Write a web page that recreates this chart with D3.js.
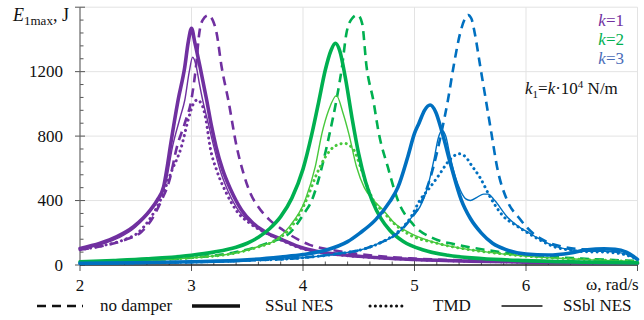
<!DOCTYPE html>
<html><head><meta charset="utf-8">
<script src="https://cdn.jsdelivr.net/npm/d3@7"></script>
<style>
body{margin:0;background:#fff}
svg{display:block}
</style>
</head><body>
<svg id="c" width="644" height="320" font-family="'Liberation Serif', 'DejaVu Serif', serif"></svg>
<script>
// ---------- data (ω [rad/s], E1max [J]) ----------
const xTicks = [2, 3, 4, 5, 6];
const yTicks = [0, 400, 800, 1200];
const kLabels = ["1", "2", "3"];
const legendLabels = ["no damper", "SSul NES", "TMD", "SSbl NES"];

// k = 1
const noDamperK1 = [[2.0,95],[2.2,118],[2.4,155],[2.55,205],[2.65,290],[2.73,400],[2.8,520],[2.87,735],[2.94,880],[3.0,1030],[3.04,1230],[3.07,1440],[3.1,1520],[3.15,1550],[3.19,1520],[3.225,1440],[3.27,1230],[3.33,1024],[3.405,735],[3.47,560],[3.525,450],[3.6,360],[3.7,280],[3.82,217],[3.95,160],[4.06,125],[4.3,88],[4.6,60],[5.0,40],[5.5,27],[6.0,20],[6.5,15],[7.0,11]];
const ssulK1 = [[2.0,103],[2.18,135],[2.33,176],[2.48,238],[2.63,341],[2.69,400],[2.75,486],[2.78,600],[2.81,735],[2.88,1024],[2.94,1231],[2.97,1380],[3.0,1469],[3.03,1380],[3.076,1231],[3.136,1024],[3.18,860],[3.22,735],[3.28,590],[3.35,470],[3.45,340],[3.55,260],[3.65,210],[3.82,155],[4.0,105],[4.12,85],[4.4,60],[4.72,43],[5.0,34],[5.5,24],[6.0,18],[6.5,14],[7.0,11]];
const tmdK1 = [[2.0,95],[2.2,120],[2.4,158],[2.52,200],[2.62,280],[2.72,400],[2.82,580],[2.91,735],[2.97,900],[3.01,990],[3.05,1024],[3.09,1000],[3.13,900],[3.166,735],[3.23,580],[3.31,450],[3.4,340],[3.53,255],[3.65,205],[3.82,150],[4.0,100],[4.12,82],[4.4,58],[4.72,42],[5.0,33],[5.5,23],[6.0,17],[6.5,13],[7.0,10]];
const ssblK1 = [[2.0,100],[2.2,130],[2.35,170],[2.48,225],[2.6,310],[2.7,400],[2.77,510],[2.83,735],[2.9,920],[2.94,1024],[2.98,1200],[3.01,1289],[3.04,1240],[3.07,1128],[3.1,1024],[3.15,880],[3.2,735],[3.26,580],[3.33,455],[3.43,330],[3.55,255],[3.65,205],[3.82,150],[4.0,102],[4.12,83],[4.4,59],[4.72,42],[5.0,33],[5.5,23],[6.0,17],[6.5,13],[7.0,10]];

// k = 2
const noDamperK2 = [[2.0,18],[2.5,28],[3.0,45],[3.4,80],[3.7,140],[3.88,198],[4.0,310],[4.08,403],[4.17,610],[4.24,820],[4.3,1024],[4.35,1231],[4.39,1440],[4.44,1530],[4.49,1552],[4.53,1500],[4.57,1231],[4.63,1024],[4.68,817],[4.76,610],[4.85,403],[4.99,250],[5.17,165],[5.35,130],[5.5,110],[5.75,82],[6.0,62],[6.5,40],[7.0,25]];
const ssulK2 = [[2.0,20],[2.3,28],[2.6,38],[3.0,60],[3.2,80],[3.4,110],[3.5,135],[3.6,172],[3.7,225],[3.8,300],[3.9,415],[4.0,595],[4.08,815],[4.14,1010],[4.2,1210],[4.25,1330],[4.29,1376],[4.33,1328],[4.38,1162],[4.44,911],[4.5,688],[4.56,519],[4.62,400],[4.7,288],[4.78,214],[4.9,146],[5.08,93],[5.3,60],[5.6,40],[6.0,27],[6.5,18],[7.0,13]];
const tmdK2 = [[2.0,16],[2.5,26],[3.0,45],[3.4,75],[3.6,112],[3.76,155],[3.9,240],[4.03,403],[4.12,560],[4.2,670],[4.28,735],[4.37,755],[4.45,720],[4.52,600],[4.58,480],[4.63,403],[4.72,330],[4.82,255],[4.93,198],[5.2,135],[5.45,100],[5.75,72],[6.0,55],[6.5,35],[7.0,22]];
const ssblK2 = [[2.0,16],[2.5,26],[3.0,45],[3.4,75],[3.6,115],[3.76,157],[3.88,240],[4.02,403],[4.11,610],[4.17,817],[4.23,960],[4.3,1051],[4.36,940],[4.41,817],[4.48,610],[4.55,480],[4.63,403],[4.72,340],[4.82,260],[4.96,198],[5.2,136],[5.45,100],[5.75,72],[6.0,55],[6.5,35],[7.0,22]];

// k = 3
const noDamperK3 = [[2.0,10],[2.5,13],[3.0,18],[3.5,28],[4.0,45],[4.3,70],[4.55,100],[4.7,140],[4.85,198],[4.97,290],[5.07,403],[5.17,610],[5.24,817],[5.3,1024],[5.35,1231],[5.41,1440],[5.45,1525],[5.48,1552],[5.51,1530],[5.54,1440],[5.59,1231],[5.64,1024],[5.69,817],[5.74,610],[5.83,403],[5.94,290],[6.06,198],[6.2,140],[6.33,114],[6.45,100],[6.6,95],[6.75,90],[6.9,70],[7.0,38]];
const ssulK3 = [[2.0,10],[2.5,14],[3.0,20],[3.5,32],[3.8,50],[4.0,65],[4.21,93],[4.4,145],[4.51,198],[4.65,280],[4.78,395],[4.85,480],[4.94,672],[5.0,817],[5.04,880],[5.09,960],[5.14,993],[5.19,950],[5.25,817],[5.33,610],[5.42,403],[5.5,290],[5.6,198],[5.7,135],[5.83,93],[6.0,68],[6.2,62],[6.4,75],[6.55,95],[6.7,100],[6.8,98],[6.9,80],[6.97,50],[7.0,35]];
const tmdK3 = [[2.0,10],[2.5,13],[3.0,18],[3.5,28],[4.0,45],[4.3,68],[4.55,100],[4.7,140],[4.85,205],[4.97,300],[5.05,404],[5.12,465],[5.18,520],[5.23,569],[5.3,640],[5.35,675],[5.4,690],[5.46,670],[5.51,620],[5.59,540],[5.68,420],[5.8,300],[5.9,250],[6.02,198],[6.14,150],[6.25,114],[6.4,92],[6.55,82],[6.7,80],[6.85,70],[6.95,50],[7.0,35]];
const ssblK3 = [[2.0,10],[2.5,13],[3.0,18],[3.5,28],[4.0,45],[4.3,68],[4.55,100],[4.7,140],[4.85,198],[4.98,300],[5.05,362],[5.11,465],[5.18,672],[5.21,780],[5.25,835],[5.28,800],[5.32,672],[5.37,540],[5.41,465],[5.46,410],[5.5,400],[5.56,420],[5.62,440],[5.66,440],[5.72,400],[5.83,300],[5.93,240],[6.03,198],[6.15,150],[6.27,114],[6.4,95],[6.55,85],[6.7,85],[6.85,75],[6.95,55],[7.0,35]];

// ---------- chart ----------
const FONT = "'Liberation Serif', 'DejaVu Serif', serif";
const svg = d3.select("#c");
const x = d3.scaleLinear().domain([2, 7]).range([80, 637.5]);
const y = d3.scaleLinear().domain([0, 1600]).range([265, 7.2]);

const purple = "#7030a0", green = "#00b050", lightGreen = "#48c83c", blue = "#0070c0";
const styles = {
  dashed: {w: 2.6, dash: "9,6", cap: "butt"},
  thick:  {w: 3.6, dash: null, cap: "round"},
  dotted: {w: 3.0, dash: "0.1,5.2", cap: "round"},
  thin:   {w: 1.4, dash: null, cap: "round"}
};

function txt(sel) { return sel.attr("font-family", FONT).style("font-family", FONT).attr("fill", "#111"); }

// grid
const g = svg.append("g");
g.selectAll("line.vg").data([3,4,5,6,7]).join("line")
  .attr("x1", d => x(d)).attr("x2", d => x(d)).attr("y1", y(1600)).attr("y2", y(0))
  .attr("stroke", "#e3e3e3").attr("stroke-width", 1);
g.selectAll("line.hg").data([400,800,1200,1600]).join("line")
  .attr("x1", x(2)).attr("x2", x(7)).attr("y1", d => y(d)).attr("y2", d => y(d))
  .attr("stroke", "#e3e3e3").attr("stroke-width", 1);

// minor ticks
const yMinor = d3.range(0, 1601, 80).filter(v => v % 400 !== 0);
g.selectAll("line.ym").data(yMinor).join("line")
  .attr("x1", x(2)).attr("x2", x(2) + 3.5).attr("y1", d => y(d)).attr("y2", d => y(d))
  .attr("stroke", "#555").attr("stroke-width", 1);
const xMinor = d3.range(2, 7.001, 0.2).map(v => +v.toFixed(2)).filter(v => Math.abs(v - Math.round(v)) > 0.01);
g.selectAll("line.xm").data(xMinor).join("line")
  .attr("x1", d => x(d)).attr("x2", d => x(d)).attr("y1", y(0)).attr("y2", y(0) - 3.5)
  .attr("stroke", "#555").attr("stroke-width", 1);

// major ticks
g.selectAll("line.yM").data([0,400,800,1200,1600]).join("line")
  .attr("x1", x(2) - 5).attr("x2", x(2) + 5).attr("y1", d => y(d)).attr("y2", d => y(d))
  .attr("stroke", "#555").attr("stroke-width", 1);
g.selectAll("line.xM").data([2,3,4,5,6,7]).join("line")
  .attr("x1", d => x(d)).attr("x2", d => x(d)).attr("y1", y(0) - 5).attr("y2", y(0) + 6)
  .attr("stroke", "#555").attr("stroke-width", 1);

// axis lines
g.append("line").attr("x1", x(2)).attr("x2", x(2)).attr("y1", y(1600)).attr("y2", y(0))
  .attr("stroke", "#666").attr("stroke-width", 1.2);
g.append("line").attr("x1", x(2)).attr("x2", x(7)).attr("y1", y(0)).attr("y2", y(0))
  .attr("stroke", "#222").attr("stroke-width", 1.4);

// tick labels
txt(g.selectAll("text.yl").data(yTicks).join("text"))
  .attr("x", 63).attr("y", d => y(d) + 5.5).attr("text-anchor", "end")
  .attr("font-size", 17).text(d => d);
txt(g.selectAll("text.xl").data(xTicks).join("text"))
  .attr("x", d => x(d)).attr("y", 291).attr("text-anchor", "middle")
  .attr("font-size", 17).text(d => d);

// axis titles
const yt = txt(svg.append("text")).attr("x", 13).attr("y", 21).attr("font-size", 18);
yt.append("tspan").attr("font-style", "italic").text("E");
yt.append("tspan").attr("font-size", 13).attr("dy", 4).text("1max");
yt.append("tspan").attr("dy", -4).text(", J");
txt(svg.append("text")).attr("x", 586).attr("y", 290).attr("font-size", 17).text("ω, rad/s");

// curves
const line = d3.line().x(d => x(d[0])).y(d => y(d[1])).curve(d3.curveMonotoneX);
const series = [
  {d: noDamperK1, c: purple, s: "dashed"}, {d: tmdK1, c: purple, s: "dotted"}, {d: ssblK1, c: purple, s: "thin"}, {d: ssulK1, c: purple, s: "thick"},
  {d: noDamperK2, c: green, s: "dashed"}, {d: tmdK2, c: lightGreen, s: "dotted"}, {d: ssblK2, c: lightGreen, s: "thin"}, {d: ssulK2, c: green, s: "thick"},
  {d: noDamperK3, c: blue, s: "dashed"}, {d: tmdK3, c: blue, s: "dotted"}, {d: ssblK3, c: blue, s: "thin"}, {d: ssulK3, c: blue, s: "thick"}
];
svg.append("g").selectAll("path").data(series).join("path")
  .attr("d", s => line(s.d)).attr("fill", "none")
  .attr("stroke", s => s.c).attr("stroke-width", s => styles[s.s].w)
  .attr("stroke-dasharray", s => styles[s.s].dash)
  .attr("stroke-linecap", s => styles[s.s].cap).attr("stroke-linejoin", "round");

// k legend (top right)
const kColors = [purple, green, "#4a6cb8"];
const kl = txt(svg.append("g").selectAll("text").data(kLabels).join("text"))
  .attr("x", 624).attr("y", (d, i) => 26 + i * 19).attr("text-anchor", "end")
  .attr("font-size", 17).attr("fill", (d, i) => kColors[i]);
kl.append("tspan").attr("font-style", "italic").text("k");
kl.append("tspan").text(d => "=" + d);

// k1 formula
const kf = txt(svg.append("text")).attr("x", 525).attr("y", 94).attr("font-size", 17);
kf.append("tspan").attr("font-style", "italic").text("k");
kf.append("tspan").attr("font-size", 11).attr("dy", 4).text("1");
kf.append("tspan").attr("dy", -4).text("=");
kf.append("tspan").attr("font-style", "italic").text("k");
kf.append("tspan").text("·10");
kf.append("tspan").attr("font-size", 11).attr("dy", -6).text("4");
kf.append("tspan").attr("dy", 6).text(" N/m");

// bottom legend
const legendX = [[37, 83, 100], [192, 240, 265], [370, 407, 433], [502, 542, 563]];
const legendStyles = ["dashed", "thick", "dotted", "thin"];
const lg = svg.append("g");
legendLabels.forEach((lab, i) => {
  const st = styles[legendStyles[i]];
  lg.append("line").attr("x1", legendX[i][0]).attr("x2", legendX[i][1]).attr("y1", 306).attr("y2", 306)
    .attr("stroke", "#111").attr("stroke-width", st.w)
    .attr("stroke-dasharray", st.dash).attr("stroke-linecap", legendStyles[i] === "thick" ? "butt" : st.cap);
  txt(lg.append("text")).attr("x", legendX[i][2]).attr("y", 311).attr("font-size", 17).text(lab);
});
</script>
</body></html>
